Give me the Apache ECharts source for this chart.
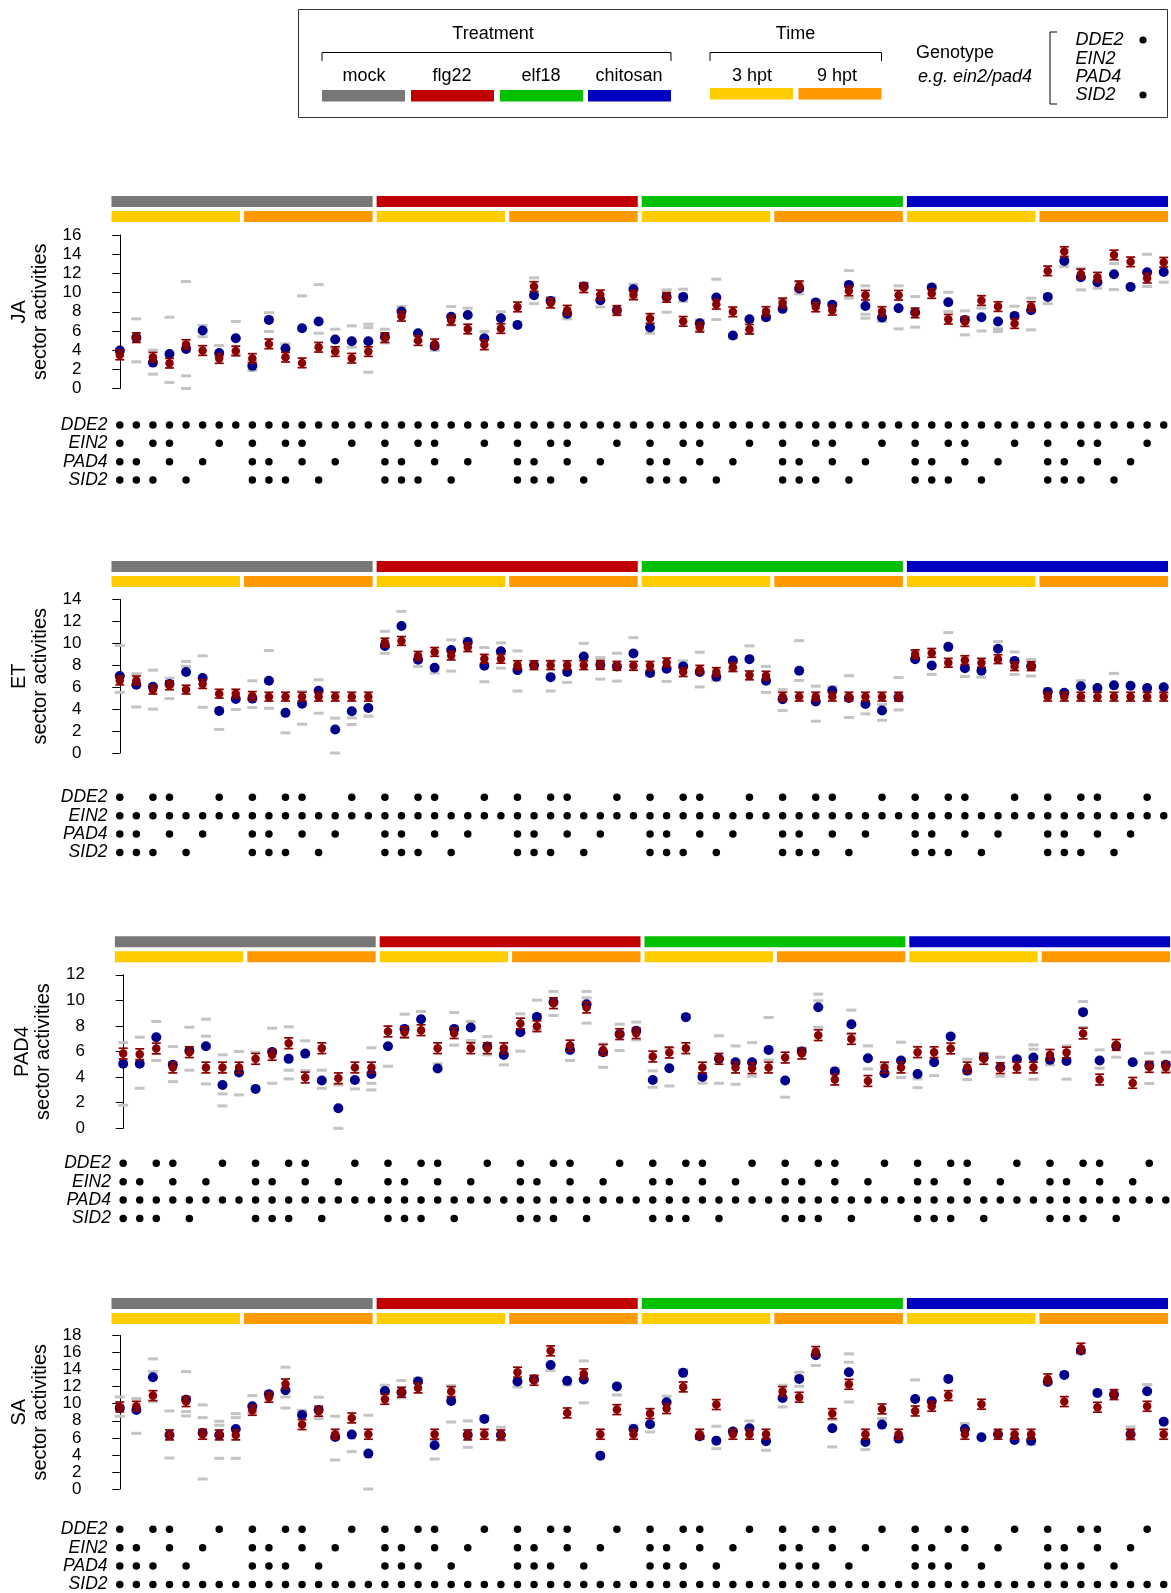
<!DOCTYPE html>
<html><head><meta charset="utf-8">
<script src="https://cdn.jsdelivr.net/npm/echarts@6/dist/echarts.min.js"></script>
<style>html,body{margin:0;padding:0;background:#fff}#c{width:1171px;height:1593px}</style>
</head><body><div id="c"></div><script>
// ---------- categories ----------
const treatments = ['mock','flg22','elf18','chitosan'];
const times = ['3 hpt','9 hpt'];
const genes = ['DDE2','EIN2','PAD4','SID2'];
const panelNames = ['JA','ET','PAD4','SA'];
const yMaxes = [16,14,12,18];
// genotype pattern within each block of 8 (1 = dot)
const patA = [1,0,1,1,0,0,1,0];
const patB = [1,1,0,1,0,1,0,0];
const patC = [1,1,1,0,1,0,0,0];
const geneRoles = [['all','A','B','C'],['A','all','B','C'],['A','B','all','C'],['A','B','C','all']];
const redErr = [0.5,0.4,0.42,0.58];

// ---------- JA ----------
const jaBlue = [3.96,5.3,2.7,3.6,4.13,6.04,3.7,5.24, 2.36,7.15,4.17,6.28,6.98,5.1,4.93,4.93, 5.38,8.02,5.76,4.44,7.47,7.67,5.24,7.33, 6.63,9.72,9.13,7.8,10.63,9.2,8.16,10.35, 6.35,9.55,9.55,6.8,9.48,5.52,7.22,7.43, 8.3,10.42,8.96,8.72,10.8,8.6,7.4,8.37, 7.92,10.52,8.99,7.15,7.43,6.98,7.57,8.16, 9.55,13.3,11.6,11.08,11.91,10.59,12.12,12.15];
const jaRed = [3.5,5.3,3.26,2.64,4.58,3.96,3.13,3.92, 3.13,4.65,3.26,2.67,4.3,3.85,3.16,3.85, 5.3,7.53,5.0,4.65,7.12,6.2,4.55,6.25, 8.5,10.63,8.9,8.16,10.5,9.76,8.13,9.76, 7.3,9.5,7.0,6.39,8.78,7.99,6.18,8.02, 8.92,10.7,8.5,8.16,10.17,9.72,8.02,9.72, 7.88,9.9,7.22,6.98,9.17,8.54,6.77,8.54, 12.26,14.27,11.94,11.6,13.92,13.2,11.5,13.16];
const jaGrayA = [3.85,7.26,4.0,7.43,11.15,6.56,4.48,6.98, 1.88,7.9,4.65,9.65,10.83,6.18,6.53,6.7, 6.18,8.54,4.9,3.96,8.54,8.37,5.94,8.0, null,11.53,9.48,7.26,11.0,8.5,7.74,10.87, 5.76,10.28,10.35,7.15,11.39,5.24,5.76,7.15, 9.24,11.15,9.24,8.96,12.29,10.7,6.98,10.7, 9.58,10.8,10.03,8.09,8.37,6.22,8.58,9.41, 8.85,12.7,12.53,10.45,13.02,10.63,13.99,11.08];
const jaGrayB = [null,2.78,1.5,0.63,1.32,5.4,3.33,3.5, 2.8,5.94,null,null,5.76,4.27,4.3,6.35, 4.75,null,null,null,6.6,null,null,null, null,8.85,null,null,null,null,null,9.4, null,7.95,9.06,6.04,7.19,null,null,null, null,9.86,null,null,9.41,7.74,null,6.22, 6.39,null,8.02,5.59,6.0,5.94,null,6.11, null,null,10.28,null,10.31,null,10.63,null];
const jaGrayC = [null,null,null,null,0,null,null,null, null,null,null,null,null,null,null,1.7, null,null,null,null,null,null,null,null, null,null,null,null,null,null,null,null, null,null,null,null,null,null,null,null, null,null,null,null,null,7.33,null,null, null,null,null,null,null,null,null,null, null,null,null,null,null,null,null,null];

// ---------- ET ----------
const etBlue = [7.02,6.23,6.05,6.29,7.38,6.83,3.84,4.93, 4.96,6.59,3.66,4.5,5.68,2.15,3.81,4.11, 9.77,11.58,8.5,7.77,9.4,10.13,7.95,9.28, 7.56,8.01,6.92,7.38,8.8,8.04,7.9,9.07, 7.29,7.68,7.9,7.38,6.95,8.44,8.56,6.59, 4.9,7.5,4.69,5.68,5.02,4.48,3.87,5.08, 8.56,7.98,9.68,7.74,7.5,9.5,8.4,7.92, 5.56,5.5,6.08,5.93,6.17,6.14,5.93,5.99];
const etRed = [6.62,6.62,5.78,6.17,5.78,6.29,5.41,5.41, 5.2,5.14,5.14,5.14,5.14,5.14,5.14,5.14, 10.07,10.22,8.86,9.22,8.89,9.65,8.59,8.59, 8.01,8.01,8.01,8.01,8.01,8.04,7.95,7.95, 7.95,8.26,7.38,7.59,7.38,7.83,7.08,7.05, 5.14,5.14,5.14,5.14,5.14,5.14,5.14,5.14, 9.01,9.13,8.23,8.47,8.23,8.56,7.92,7.92, 5.14,5.14,5.14,5.14,5.14,5.14,5.14,5.14];
const etGrayA = [9.8,7.23,7.56,6.83,8.35,8.86,2.15,3.96, 6.59,9.34,1.84,5.62,6.68,3.18,2.6,3.36, 11.1,12.91,7.9,7.29,10.31,10.46,9.62,10.04, 9.31,null,8.4,6.44,10.0,8.7,9.1,10.52, 7.05,6.53,8.4,9.19,6.62,7.59,9.77,7.9, 5.78,10.25,6.1,6.05,7.05,3.57,4.41,6.89, 9.31,7.17,10.98,6.98,6.92,10.16,9.22,8.53, 5.87,null,6.59,null,7.26,null,null,5.38];
const etGrayB = [5.53,4.2,4.0,4.96,7.9,4.17,null,null, 4.14,4.08,null,2.63,3.63,0,3.2,null, 9.1,null,null,null,7.47,null,6.5,7.74, 5.65,null,5.65,null,null,6.74,6.56,null, null,null,null,6.02,null,null,null,5.53, 3.87,6.62,2.9,null,3.24,null,2.99,3.93, null,null,null,null,null,null,7.17,7.02, null,null,null,null,null,null,null,null];
const etGrayC = [];

// ---------- PAD4 ----------
const padBlue = [5.04,5.04,7.12,4.96,6.05,6.42,3.39,4.36, 3.08,5.97,5.43,5.84,3.73,1.57,3.78,4.25, 6.42,7.77,8.53,4.67,7.77,7.88,6.39,5.74, 7.51,8.71,9.86,6.13,9.7,5.95,7.36,7.62, 3.78,4.7,8.69,4.02,5.43,5.17,5.17,6.13, 3.73,6.0,9.47,4.44,8.14,5.48,4.3,5.3, 4.25,5.17,7.17,4.51,5.53,4.75,5.4,5.53, 5.35,5.27,9.08,5.3,6.44,5.17,4.9,4.96];
const padRed = [5.84,5.79,6.24,4.75,5.95,4.75,4.75,4.75, 5.43,5.74,6.65,3.97,6.26,3.91,4.75,4.75, 7.57,7.51,7.67,6.26,7.44,6.26,6.26,6.26, 8.19,7.98,9.78,6.47,9.44,6.13,7.36,7.44, 5.61,5.92,6.26,4.75,5.43,4.75,4.7,4.75, 5.53,5.84,7.28,3.81,6.99,3.7,4.75,4.75, 5.95,5.95,6.24,4.75,5.43,4.7,4.75,4.75, 5.74,5.92,7.41,3.81,6.52,3.55,4.8,4.77];
const padGrayA = [6.7,7.12,8.35,6.39,7.9,8.53,5.74,6.0, 5.95,7.83,7.93,6.84,4.54,0,3.08,6.29, 4.85,8.92,9.13,5.04,9.05,8.35,7.17,4.96, 8.95,10.02,10.7,5.3,10.7,6.6,8.14,8.3, 4.49,6.31,8.87,3.52,7.23,6.44,6.7,8.66, 2.43,6.26,10.49,4.7,9.24,6.44,5.0,6.73, 3.18,4.12,7.36,5.4,5.87,5.56,5.53,6.52, 4.96,6.44,9.91,6.13,5.56,null,5.87,5.95];
const padGrayB = [1.8,3.13,5.3,3.65,4.54,3.47,1.75,2.61, null,3.52,4.54,4.51,3.13,3.39,null,3.52, null,7.1,null,null,6.5,6.86,5.74,null, 6.03,7.7,8.82,null,8.22,4.77,6.08,6.91, 3.21,3.31,null,null,3.52,3.44,4.07,5.35, null,null,7.9,null,7.36,4.64,null,3.97, 3.86,null,null,3.81,null,4.07,null,3.84, null,3.84,7.88,4.7,null,null,3.5,4.44];
const padGrayC = [null,null,null,null,null,7.2,2.69,null, null,null,3.86,null,null,null,null,3.0, null,null,null,null,null,null,null,null, null,null,null,null,10.2,null,null,null, null,null,null,null,null,null,null,null, null,null,9.97,null,null,null,null,null, null,null,null,null,null,null,null,6.18, null,null,null,null,null,null,null,null];

// ---------- SA ----------
const saBlue = [9.51,9.27,13.1,6.34,10.48,6.57,6.34,7.04, 9.7,11.1,11.58,8.69,9.27,6.1,6.38,4.15, 11.5,11.35,12.6,5.13,10.33,6.34,8.22,6.34, 12.6,12.83,14.55,12.68,12.83,3.91,12.01,7.04, 7.59,10.17,13.62,6.18,5.67,6.73,7.12,5.6, 10.68,12.91,15.69,7.12,13.69,5.52,7.55,5.91, 10.56,10.29,12.91,7.04,6.06,6.42,5.75,5.67, 12.56,13.38,16.24,11.27,11.07,6.42,11.46,7.9];
const saRed = [9.62,9.7,10.95,6.34,10.25,6.42,6.34,6.34, 9.23,10.76,12.32,7.55,9.12,6.42,8.33,6.42, 10.52,11.35,11.85,6.42,11.42,6.34,6.42,6.34, 13.7,12.75,16.2,8.92,13.5,6.42,9.31,6.42, 8.84,9.43,11.97,6.42,9.9,6.42,6.42,6.42, 11.42,10.76,16.12,8.84,12.28,6.42,9.39,6.42, 9.15,9.7,10.95,6.42,9.94,6.42,6.42,6.42, 12.91,10.25,16.51,9.59,11.07,6.42,9.7,6.42];
const saGrayA = [10.8,10.6,15.26,9.15,13.77,9.86,7.94,8.84, 10.95,11.46,14.28,9.23,10.76,8.53,4.38,8.65, 12.17,12.72,12.99,3.52,12.13,7.98,8.53,7.24, 11.97,13.15,13.89,12.2,15.02,null,12.32,7.47, 6.69,10.88,14.0,5.91,7.36,null,7.98,4.54, 12.17,13.69,14.48,8.14,15.85,4.62,8.25,6.18, 12.79,null,null,7.67,null,null,null,5.2, null,null,15.88,null,null,7.28,12.25,null];
const saGrayB = [8.53,6.53,13.77,3.64,9.08,8.37,7.47,8.37, 8.92,null,10.8,null,8.25,3.4,null,0, null,10.68,null,5.8,7.86,4.89,null,5.71, null,null,null,null,10.1,null,11.03,null, null,null,null,null,4.73,null,null,null, 9.62,12.05,null,4.93,14.87,null,null,null, null,null,null,null,null,null,null,null, null,null,null,null,null,5.79,null,null];
const saGrayC = [null,null,10.25,null,8.57,1.17,3.6,3.6, null,null,9.5,null,null,null,null,null, null,null,null,null,null,null,null,null, null,null,null,null,null,null,null,null, null,null,null,null,null,null,null,null, null,null,null,null,10.21,null,null,null, null,null,null,null,null,null,null,null, null,null,null,null,null,null,null,null];

const blues = [jaBlue, etBlue, padBlue, saBlue];
const reds = [jaRed, etRed, padRed, saRed];
const grays = [[jaGrayA,jaGrayB,jaGrayC],[etGrayA,etGrayB,etGrayC],[padGrayA,padGrayB,padGrayC],[saGrayA,saGrayB,saGrayC]];

// ---------- styling / layout ----------
const FONT = '"Liberation Sans", Arial, Helvetica, sans-serif';
const treatColors = ['#777777','#C00000','#00C000','#0000C0'];
const timeColors = ['#FFCC00','#FF9900'];
const BLUE = '#00008B', RED = '#8B0000', GRAY = '#C4C4C4';
const layout = [
  {left:111.5, width:1060.5, barTop:196, plotTop:235, genoTop:415.8},
  {left:111.5, width:1060.5, barTop:561, plotTop:599.5, genoTop:788.1},
  {left:114.9, width:1059.2, barTop:936.3, plotTop:974.8, genoTop:1154.1},
  {left:111.5, width:1060.5, barTop:1298, plotTop:1335.5, genoTop:1520.1}
];
const plotH = 153.5, genoH = 73.5, barH = 26;
const N = jaBlue.length;
const perTreat = N / treatments.length, perTime = perTreat / times.length;

const option = {
  animation:false, backgroundColor:'#fff', textStyle:{fontFamily:FONT},
  grid:[], xAxis:[], yAxis:[], series:[], graphic:[]
};

const patterns = {A:patA, B:patB, C:patC};
const barData = [];
treatments.forEach((t,ti)=>barData.push([ti*perTreat, ti*perTreat+perTreat-1, 0, ti]));
for (let b=0;b<treatments.length*times.length;b++) barData.push([b*perTime, b*perTime+perTime-1, 1, b%times.length]);

panelNames.forEach((name,k)=>{
  const L = layout[k];
  const g0 = option.grid.length;
  option.grid.push({left:L.left, top:L.barTop, width:L.width, height:barH, outerBoundsMode:'none'});
  option.grid.push({left:L.left, top:L.plotTop, width:L.width, height:plotH, outerBoundsMode:'none'});
  option.grid.push({left:L.left, top:L.genoTop, width:L.width, height:genoH, outerBoundsMode:'none'});
  for (let j=0;j<3;j++) option.xAxis.push({gridIndex:g0+j, type:'value', min:-0.5, max:N-0.5, show:false});
  option.yAxis.push({gridIndex:g0, type:'value', min:0, max:1, show:false});
  option.yAxis.push({gridIndex:g0+1, type:'value', min:0, max:yMaxes[k], interval:2, offset:14,
    axisLine:{show:true, lineStyle:{color:'#000', width:1}},
    axisTick:{show:true, length:7.5, lineStyle:{color:'#000', width:1}},
    axisLabel:{color:'#000', fontSize:17, margin:16, fontFamily:FONT},
    splitLine:{show:false},
    name:name+'\nsector activities', nameLocation:'middle', nameRotate:90, nameGap:47,
    nameTextStyle:{color:'#000', fontSize:20, lineHeight:21, fontFamily:FONT}});
  option.yAxis.push({gridIndex:g0+2, type:'category', data:genes, inverse:true,
    axisLine:{show:false}, axisTick:{show:false}, splitLine:{show:false},
    axisLabel:{color:'#000', fontSize:17.5, fontStyle:'italic', margin:4, interval:0, fontFamily:FONT}});

  // treatment / time bars
  option.series.push({type:'custom', xAxisIndex:g0, yAxisIndex:g0, data:barData, silent:true,
    renderItem:(params, api)=>{
      const s=api.value(0), e=api.value(1), row=api.value(2), ci=api.value(3);
      const p0=api.coord([s-0.5,0]), p1=api.coord([e+0.5,0]);
      const top = params.coordSys.y + (row ? 15 : 0);
      return {type:'rect', shape:{x:p0[0], y:top, width:p1[0]-p0[0]-4, height:11},
        style:{fill: row ? timeColors[ci] : treatColors[ci]}};
    }});

  // gray replicate dashes
  const gd = [];
  grays[k].forEach(arr=>arr.forEach((v,i)=>{ if (v!==null && v!==undefined) gd.push([i,v]); }));
  option.series.push({type:'scatter', xAxisIndex:g0+1, yAxisIndex:g0+1, data:gd, symbol:'rect',
    symbolSize:[10,3], itemStyle:{color:GRAY, opacity:1}, z:2, silent:true});
  // blue observed
  option.series.push({type:'scatter', xAxisIndex:g0+1, yAxisIndex:g0+1, data:blues[k].map((v,i)=>[i,v]),
    symbol:'circle', symbolSize:10, itemStyle:{color:BLUE, opacity:1}, z:3, silent:true});
  // red error bars
  const e = redErr[k];
  option.series.push({type:'custom', xAxisIndex:g0+1, yAxisIndex:g0+1, z:4, silent:true,
    data:reds[k].map((v,i)=>[i, v-e, v+e]),
    renderItem:(params, api)=>{
      const a=api.coord([api.value(0), api.value(1)]), b=api.coord([api.value(0), api.value(2)]);
      const w=4.5, st={stroke:RED, lineWidth:1.7};
      return {type:'group', children:[
        {type:'line', shape:{x1:a[0],y1:a[1],x2:b[0],y2:b[1]}, style:st},
        {type:'line', shape:{x1:a[0]-w,y1:a[1],x2:a[0]+w,y2:a[1]}, style:st},
        {type:'line', shape:{x1:b[0]-w,y1:b[1],x2:b[0]+w,y2:b[1]}, style:st}
      ]};
    }});
  // red fitted
  option.series.push({type:'scatter', xAxisIndex:g0+1, yAxisIndex:g0+1, data:reds[k].map((v,i)=>[i,v]),
    symbol:'circle', symbolSize:8.5, itemStyle:{color:RED, opacity:1}, z:5, silent:true});

  // genotype matrix
  const dots = [];
  geneRoles[k].forEach((role,gi)=>{
    for (let i=0;i<N;i++){
      const on = role==='all' ? 1 : patterns[role][i%perTime];
      if (on) dots.push([i, gi]);
    }
  });
  option.series.push({type:'scatter', xAxisIndex:g0+2, yAxisIndex:g0+2, data:dots,
    symbol:'circle', symbolSize:7.5, itemStyle:{color:'#000', opacity:1}, silent:true});
});

// ---------- legend box (drawn) ----------
const G = option.graphic;
function txt(x,y,s,extra){
  return {type:'text', x:x, y:y, silent:true, style:Object.assign({text:s, fill:'#000', fontSize:18, fontFamily:FONT,
    textAlign:'center', textVerticalAlign:'middle', align:'center', verticalAlign:'middle'}, extra||{})};
}
function line(points){ return {type:'polyline', silent:true, shape:{points:points}, style:{stroke:'#000', fill:null, lineWidth:1}}; }
function box(x,y,w,h,c){ return {type:'rect', silent:true, shape:{x:x,y:y,width:w,height:h}, style:{fill:c}}; }
G.push({type:'rect', silent:true, shape:{x:298.5,y:9.5,width:869,height:108}, style:{fill:'none', stroke:'#333', lineWidth:1}});
G.push(txt(493,34,'Treatment'));
G.push(line([[322,61],[322,52.5],[671,52.5],[671,61]]));
const trX = [322,411,500,588], trLab = [364,452,541,629];
treatments.forEach((t,i)=>{ G.push(txt(trLab[i],76,t)); G.push(box(trX[i],90,83,11.5,treatColors[i])); });
G.push(txt(795.5,34,'Time'));
G.push(line([[710,61],[710,52.5],[881.5,52.5],[881.5,61]]));
const tmX = [710,798.5], tmLab = [752,837];
times.forEach((t,i)=>{ G.push(txt(tmLab[i],76,t)); G.push(box(tmX[i],88,83,11.5,timeColors[i])); });
G.push(txt(955,53,'Genotype'));
G.push(txt(975,77,'e.g. ein2/pad4',{fontStyle:'italic'}));
G.push(line([[1057,32],[1050,32],[1050,104],[1057,104]]));
const lgY = [40,58.5,77,95];
genes.forEach((g,i)=>G.push(txt(1075.5,lgY[i],g,{fontStyle:'italic', textAlign:'left', align:'left'})));
G.push({type:'circle', silent:true, shape:{cx:1143,cy:40,r:3.6}, style:{fill:'#000'}});
G.push({type:'circle', silent:true, shape:{cx:1143,cy:95,r:3.6}, style:{fill:'#000'}});

const chart = echarts.init(document.getElementById('c'));
chart.setOption(option);
</script></body></html>
